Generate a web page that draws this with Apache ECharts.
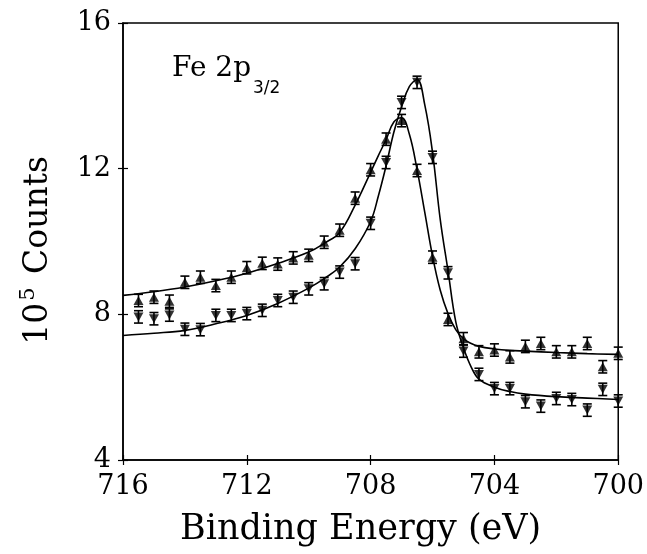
<!DOCTYPE html>
<html>
<head>
<meta charset="utf-8">
<script src="https://cdn.jsdelivr.net/npm/echarts@6/dist/echarts.min.js"></script>
<style>
  html, body { margin: 0; padding: 0; background: #fff; }
  #chart { width: 647px; height: 554px; }
</style>
</head>
<body>
<div id="chart"></div>
<script>
// binding energies of measured points (eV)
const energy = [715.5, 715.0, 714.5, 714.0, 713.5, 713.0, 712.5, 712.0, 711.5, 711.0,
  710.5, 710.0, 709.5, 709.0, 708.5, 708.0, 707.5, 707.0, 706.5, 706.0,
  705.5, 705.0, 704.5, 704.0, 703.5, 703.0, 702.5, 702.0, 701.5, 701.0, 700.5, 700.0];

// up triangles
const upCounts = [8.38, 8.47, 8.36, 8.88, 9.02, 8.79, 9.02, 9.28, 9.40, 9.38,
  9.55, 9.62, 9.98, 10.31, 11.19, 11.97, 12.81, 13.32, 11.95, 9.57,
  7.86, 7.33, 6.97, 7.02, 6.83, 7.12, 7.20, 6.97, 6.97, 7.20, 6.56, 6.93];

// down triangles
const downCounts = [7.93, 7.88, 7.98, 7.59, 7.58, 7.97, 7.97, 8.02, 8.11, 8.38,
  8.47, 8.70, 8.84, 9.16, 9.39, 10.50, 12.17, 13.82, 14.37, 12.31,
  9.14, 6.99, 6.35, 5.96, 5.96, 5.60, 5.48, 5.69, 5.66, 5.37, 5.94, 5.62];

const errHalf = 0.17;

// fitted curves
const fitEnergy = [716, 715, 714, 713, 712, 711, 710, 709.5, 709, 708.5,
  708, 707.75, 707.5, 707.25, 707, 706.75, 706.5, 706.25, 706, 705.75,
  705.5, 705.25, 705, 704.75, 704.5, 704, 703.5, 703, 702, 701, 700];
const fitUp = [8.52, 8.62, 8.75, 8.92, 9.13, 9.40, 9.71, 9.95, 10.25, 11.0,
  11.90, 12.36, 12.80, 13.28, 13.40, 12.95, 11.98, 10.80, 9.60, 8.66,
  8.02, 7.58, 7.33, 7.20, 7.12, 7.05, 7.01, 6.99, 6.95, 6.92, 6.90];
const fitDown = [7.42, 7.48, 7.56, 7.74, 7.97, 8.30, 8.72, 8.98, 9.30, 9.80,
  10.55, 11.25, 12.08, 13.0, 13.70, 14.25, 14.45, 13.75, 12.45, 10.60,
  9.20, 7.80, 7.08, 6.55, 6.22, 6.0, 5.88, 5.81, 5.74, 5.70, 5.66];

const xTicks = [716, 712, 708, 704, 700];
const yTicks = [4, 8, 12, 16];

const chart = echarts.init(document.getElementById('chart'), null, { renderer: 'canvas' });

const serif = 'DejaVu Serif';
const pts = (ys) => energy.map((e, i) => [e, ys[i]]);
const bars = (ys) => energy.map((e, i) => [e, ys[i] - errHalf, ys[i] + errHalf]);
const fit = (ys) => fitEnergy.map((e, i) => [e, ys[i]]);

function errorBar(params, api) {
  const lo = api.coord([api.value(0), api.value(1)]);
  const hi = api.coord([api.value(0), api.value(2)]);
  const w = 4.5;
  const style = { stroke: '#000', lineWidth: 1.6 };
  return {
    type: 'group',
    children: [
      { type: 'line', shape: { x1: lo[0], y1: lo[1], x2: hi[0], y2: hi[1] }, style },
      { type: 'line', shape: { x1: lo[0] - w, y1: lo[1], x2: lo[0] + w, y2: lo[1] }, style },
      { type: 'line', shape: { x1: hi[0] - w, y1: hi[1], x2: hi[0] + w, y2: hi[1] }, style }
    ]
  };
}

const baseX = { type: 'value', min: 700, max: 716, interval: 4, inverse: true };
const baseY = { type: 'value', min: 4, max: 16, interval: 4 };

const option = {
  backgroundColor: '#fff',
  animation: false,
  grid: {
    left: 123, right: 28, top: 23, bottom: 94,
    show: true, borderColor: '#000', borderWidth: 1.5, backgroundColor: 'transparent'
  },
  xAxis: [
    Object.assign({}, baseX, {
      position: 'bottom',
      name: 'Binding Energy (eV)',
      nameLocation: 'middle',
      nameGap: 52,
      nameTextStyle: { fontFamily: serif, fontSize: 35, color: '#000', padding: [0, 20, 0, 0] },
      axisLine: { lineStyle: { color: '#000', width: 1.5 } },
      axisTick: { length: 5, lineStyle: { color: '#000', width: 1.2 } },
      axisLabel: {
        fontFamily: serif, fontSize: 27, color: '#000', margin: 13,
        formatter: v => xTicks.includes(v) ? String(v) : ''
      },
      splitLine: { show: false }
    }),
    Object.assign({}, baseX, {
      position: 'bottom',
      axisLine: { show: false },
      axisTick: { inside: true, length: 5, lineStyle: { color: '#000', width: 1.2 } },
      axisLabel: { show: false },
      splitLine: { show: false }
    })
  ],
  yAxis: [
    Object.assign({}, baseY, {
      position: 'left',
      name: '{n|10}{s|5}{n| Counts}',
      nameLocation: 'middle',
      nameGap: 64,
      nameTextStyle: {
        color: '#000',
        padding: [0, 18, 0, 0],
        rich: {
          n: { fontFamily: serif, fontSize: 33, color: '#000' },
          s: { fontFamily: serif, fontSize: 21, color: '#000', padding: [0, 3, 20, 2] }
        }
      },
      axisLine: { lineStyle: { color: '#000', width: 1.5 } },
      axisTick: { length: 5, lineStyle: { color: '#000', width: 1.2 } },
      axisLabel: {
        fontFamily: serif, fontSize: 27, color: '#000', margin: 12,
        formatter: v => yTicks.includes(v) ? String(v) : ''
      },
      splitLine: { show: false }
    }),
    Object.assign({}, baseY, {
      position: 'left',
      axisLine: { show: false },
      axisTick: { inside: true, length: 5, lineStyle: { color: '#000', width: 1.2 } },
      axisLabel: { show: false },
      splitLine: { show: false }
    })
  ],
  graphic: [
    {
      type: 'text', left: 172, top: 55,
      style: { text: 'Fe 2p', fontFamily: serif, fontSize: 28, fill: '#000' }
    },
    {
      type: 'text', left: 253, top: 80,
      style: { text: '3/2', fontFamily: 'DejaVu Sans', fontSize: 17, fill: '#000' }
    }
  ],
  series: [
    {
      name: 'fitUp', type: 'line', data: fit(fitUp), smooth: 0.4,
      showSymbol: false, lineStyle: { color: '#000', width: 1.6 }, z: 2
    },
    {
      name: 'fitDown', type: 'line', data: fit(fitDown), smooth: 0.4,
      showSymbol: false, lineStyle: { color: '#000', width: 1.6 }, z: 2
    },
    { type: 'custom', renderItem: errorBar, data: bars(upCounts), encode: { x: 0, y: [1, 2] }, z: 3 },
    { type: 'custom', renderItem: errorBar, data: bars(downCounts), encode: { x: 0, y: [1, 2] }, z: 3 },
    {
      name: 'up', type: 'scatter', data: pts(upCounts), symbol: 'triangle', symbolSize: [10, 9],
      itemStyle: { color: '#000' }, z: 4
    },
    {
      name: 'down', type: 'scatter', data: pts(downCounts), symbol: 'triangle', symbolSize: [10, 9],
      symbolRotate: 180, itemStyle: { color: '#000' }, z: 4
    }
  ]
};

chart.setOption(option);
</script>
</body>
</html>
